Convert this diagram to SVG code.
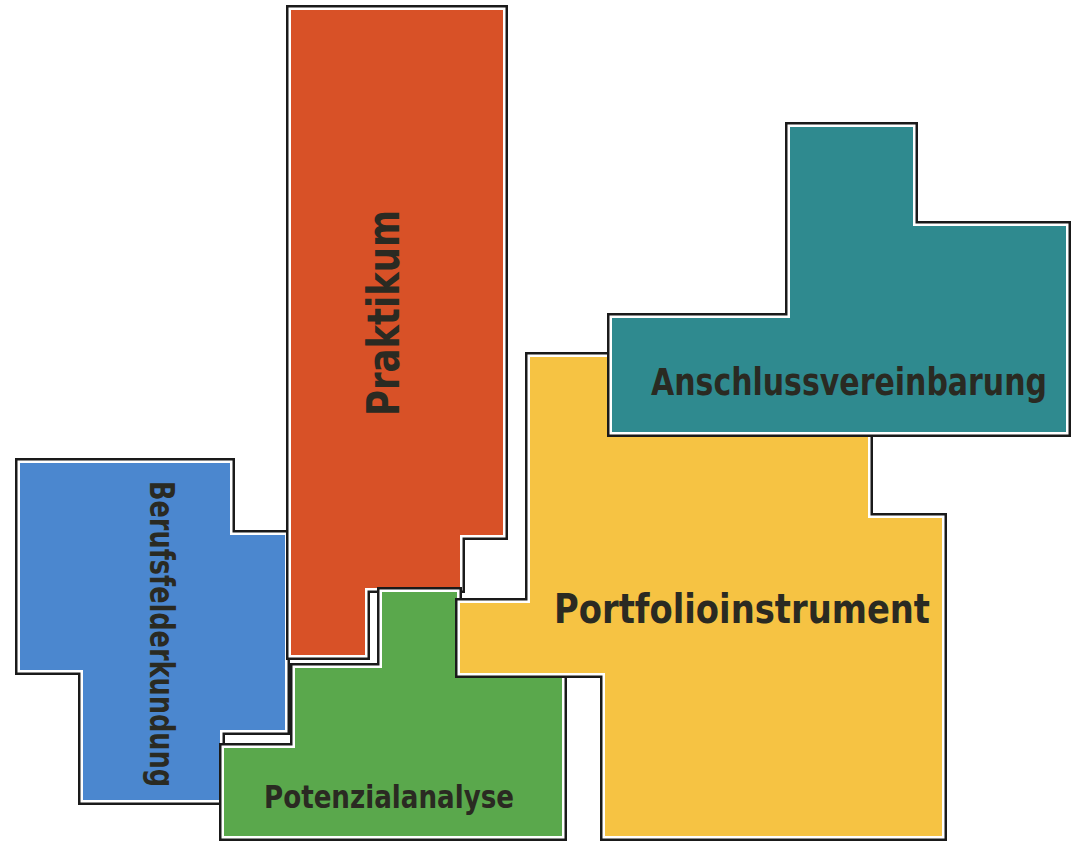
<svg xmlns="http://www.w3.org/2000/svg" xmlns:xlink="http://www.w3.org/1999/xlink" width="1072" height="842" viewBox="0 0 1072 842">
<style>
.ol{fill:none;stroke:#1a1a1a;stroke-width:10;stroke-linejoin:miter}
.gap{fill:#fff;stroke:#fff;stroke-width:5}
.lbl{font-family:"DejaVu Sans","Liberation Sans",sans-serif;font-weight:bold;fill:#2a2a22;text-anchor:middle}
</style>
<defs>
<polygon id="p-blue" points="20,463 230,463 230,535 285,535 285,730 220,730 220,800 83,800 83,670 20,670"/>
<polygon id="p-orange" points="291,10 503,10 503,535 460,535 460,588 365,588 365,655 291,655"/>
<polygon id="p-green" points="382,592 457,592 457,672 562,672 562,836 224,836 224,748 295,748 295,668 382,668"/>
<polygon id="p-yellow" points="530,357 868,357 868,518 942,518 942,836 605,836 605,673 460,673 460,603 530,603"/>
<polygon id="p-teal" points="790,127 913,127 913,226 1066,226 1066,432 612,432 612,318 790,318"/>
</defs>
<rect width="1072" height="842" fill="#fff"/>
<g id="connectors"></g>
<g id="berufsfelderkundung">
<use xlink:href="#p-blue" class="ol"/><use xlink:href="#p-blue" class="gap"/><use xlink:href="#p-blue" fill="#4b87cf"/>
<text class="lbl" font-size="33" transform="translate(150,634) rotate(90)" textLength="306" lengthAdjust="spacingAndGlyphs">Berufsfelderkundung</text>
</g>
<g id="praktikum">
<use xlink:href="#p-orange" class="ol"/><use xlink:href="#p-orange" class="gap"/><use xlink:href="#p-orange" fill="#d85127"/>
<text class="lbl" font-size="44" transform="translate(399,313) rotate(-90)" textLength="206" lengthAdjust="spacingAndGlyphs">Praktikum</text>
</g>
<g id="potenzialanalyse">
<use xlink:href="#p-green" class="ol"/><use xlink:href="#p-green" class="gap"/><use xlink:href="#p-green" fill="#5aa84c"/>
<text class="lbl" x="389" y="808" font-size="32" textLength="250" lengthAdjust="spacingAndGlyphs">Potenzialanalyse</text>
</g>
<g id="portfolioinstrument">
<use xlink:href="#p-yellow" class="ol"/><use xlink:href="#p-yellow" class="gap"/><use xlink:href="#p-yellow" fill="#f6c343"/>
<text class="lbl" x="742" y="623" font-size="40" textLength="376" lengthAdjust="spacingAndGlyphs">Portfolioinstrument</text>
</g>
<g id="anschlussvereinbarung">
<use xlink:href="#p-teal" class="ol"/><use xlink:href="#p-teal" class="gap"/><use xlink:href="#p-teal" fill="#2f8a8f"/>
<text class="lbl" x="849" y="395" font-size="37" textLength="396" lengthAdjust="spacingAndGlyphs">Anschlussvereinbarung</text>
</g>
</svg>
